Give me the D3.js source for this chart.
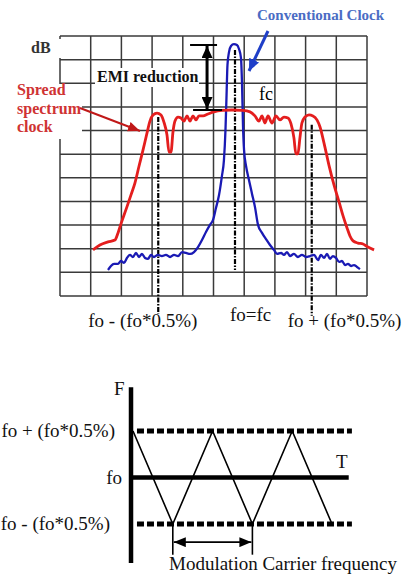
<!DOCTYPE html>
<html>
<head>
<meta charset="utf-8">
<script src="https://cdn.jsdelivr.net/npm/d3@7"></script>
<style>
  html, body { margin: 0; padding: 0; background: #fff; }
  svg { display: block; }
</style>
</head>
<body>
<script>
// ---- Spectrum plot: frequency offset from fo (%), level (dB) ----
const gridFreq = d3.range(11).map(i => +(-1.14 + i * 0.2).toFixed(2));
const gridDb = d3.range(12).map(i => -110 + i * 10);

const spreadFreq = [-0.925, -0.880, -0.827, -0.782, -0.762, -0.743, -0.704, -0.678, -0.652, -0.625,
  -0.599, -0.573, -0.554, -0.534, -0.508, -0.482, -0.463, -0.443, -0.430, -0.417,
  -0.404, -0.391, -0.371, -0.352, -0.332, -0.313, -0.293, -0.274, -0.254, -0.235,
  -0.208, -0.176, -0.137, -0.085, -0.020, 0.046, 0.098, 0.130, 0.156, 0.176,
  0.195, 0.215, 0.241, 0.267, 0.293, 0.319, 0.345, 0.365, 0.384, 0.397,
  0.410, 0.423, 0.436, 0.456, 0.482, 0.508, 0.534, 0.554, 0.580, 0.612,
  0.645, 0.678, 0.704, 0.730, 0.749, 0.769, 0.801, 0.834, 0.866, 0.906];
const spreadDb = [-90.5, -88.4, -87.1, -86.3, -83.3, -79.5, -72.3, -67.3, -62.2, -55.0,
  -48.2, -41.0, -36.0, -33.4, -32.6, -33.4, -36.4, -41.9, -49.1, -49.1,
  -40.6, -36.0, -34.3, -34.7, -36.0, -33.8, -36.0, -33.8, -35.5, -33.8,
  -33.8, -33.0, -32.1, -31.5, -31.3, -31.5, -32.1, -33.8, -36.0, -33.8,
  -36.8, -33.8, -36.8, -33.8, -35.5, -34.3, -34.7, -37.2, -43.1, -49.9,
  -49.9, -43.1, -36.8, -34.3, -33.4, -33.8, -35.5, -38.5, -45.3, -54.6,
  -63.0, -70.2, -76.1, -81.2, -84.6, -86.7, -87.6, -88.0, -89.3, -90.5];

const convFreq = [-0.827, -0.808, -0.788, -0.762, -0.743, -0.723, -0.704, -0.684, -0.665, -0.645,
  -0.625, -0.606, -0.586, -0.567, -0.547, -0.528, -0.502, -0.476, -0.450, -0.423,
  -0.397, -0.371, -0.345, -0.319, -0.293, -0.267, -0.241, -0.215, -0.189, -0.163,
  -0.143, -0.124, -0.104, -0.085, -0.072, -0.062, -0.055, -0.049, -0.039, -0.026,
  -0.007, 0.013, 0.026, 0.039, 0.046, 0.052, 0.059, 0.072, 0.091, 0.111,
  0.130, 0.150, 0.176, 0.202, 0.228, 0.254, 0.274, 0.300, 0.319, 0.339,
  0.358, 0.384, 0.410, 0.436, 0.463, 0.489, 0.515, 0.541, 0.560, 0.580,
  0.599, 0.619, 0.638, 0.658, 0.678, 0.697, 0.717, 0.736, 0.756, 0.775,
  0.795, 0.814];
const convDb = [-99.0, -97.3, -96.4, -96.4, -95.2, -96.0, -93.9, -92.6, -93.5, -91.8,
  -93.5, -92.2, -93.9, -94.3, -92.6, -93.5, -92.6, -93.1, -92.6, -93.5,
  -92.6, -93.1, -91.4, -91.8, -92.2, -91.4, -89.3, -86.3, -82.9, -79.9,
  -77.8, -72.8, -67.3, -59.2, -52.5, -39.8, -25.0, -12.3, -6.8, -4.2,
  -3.4, -3.8, -5.5, -9.3, -20.7, -37.6, -48.2, -55.0, -60.9, -66.8,
  -72.3, -79.9, -83.3, -85.9, -88.4, -90.5, -92.2, -91.8, -92.6, -91.4,
  -93.1, -92.2, -93.5, -92.6, -93.5, -93.1, -92.6, -94.8, -92.6, -93.9,
  -92.2, -94.3, -93.1, -93.9, -95.6, -95.2, -96.9, -96.4, -97.3, -96.9,
  -97.7, -98.6];

const markerFreq = [-0.5, 0, 0.5];
const markerTopDb = [-34.3, -5.9, -37.6];
const markerBottomDb = [-117.6, -99.0, -118.4];
const freqLabels = ["fo - (fo*0.5%)", "fo=fc", "fo + (fo*0.5%)"];

const emiFreq = -0.182;
const emiTopDb = -3.8;
const emiBottomDb = -31.3;

// ---- Modulation profile: time (half periods) vs. frequency deviation (%) ----
const modTime = [0, 1, 2, 3, 4, 5];
const modDev = [0.5, -0.5, 0.5, -0.5, 0.5, -0.5];
const devLevels = [0.5, 0, -0.5];
const devLabels = ["fo + (fo*0.5%)", "fo", "fo - (fo*0.5%)"];

const SERIF = "'Liberation Serif', 'DejaVu Serif', 'Noto Serif', serif";
const W = 406, H = 575;
const svg = d3.select("body").append("svg")
  .attr("width", W).attr("height", H)
  .attr("font-family", SERIF)
  .style("font-family", SERIF);

const defs = svg.append("defs");
function arrowMarker(id, color, w, h) {
  defs.append("marker")
    .attr("id", id).attr("viewBox", `0 0 ${w} ${h}`)
    .attr("refX", w).attr("refY", h / 2)
    .attr("markerWidth", w).attr("markerHeight", h)
    .attr("markerUnits", "userSpaceOnUse")
    .attr("orient", "auto-start-reverse")
    .append("path").attr("d", `M0,0L${w},${h / 2}L0,${h}Z`).attr("fill", color);
}
arrowMarker("ahBlack", "#000", 12, 11);
arrowMarker("ahSmall", "#000", 12, 10);
arrowMarker("ahRed", "#c01818", 12, 10);
arrowMarker("ahBlue", "#1f3fc8", 12, 11);

// ---------- Top: spectrum ----------
const x = d3.scaleLinear().domain([-1.14, 0.86]).range([60, 367]);
const y = d3.scaleLinear().domain([-110, 0]).range([296, 36]);

const grid = svg.append("g").attr("stroke", "#3a3a3a").attr("stroke-width", 1.5);
grid.selectAll("line.v").data(gridFreq).join("line").attr("class", "v")
  .attr("x1", d => x(d)).attr("x2", d => x(d)).attr("y1", y(0)).attr("y2", y(-110));
grid.selectAll("line.h").data(gridDb).join("line").attr("class", "h")
  .attr("x1", x(-1.14)).attr("x2", x(0.86)).attr("y1", d => y(d)).attr("y2", d => y(d));

// label backgrounds
const bg = svg.append("g").attr("fill", "#fff");
bg.append("rect").attr("x", 24).attr("y", 39).attr("width", 40).attr("height", 19);
bg.append("rect").attr("x", 95).attr("y", 68).attr("width", 104).attr("height", 19);
bg.append("rect").attr("x", 8).attr("y", 84).attr("width", 74).attr("height", 55);

// frequency markers (dash-dot)
svg.append("g").selectAll("line").data(markerFreq).join("line")
  .attr("x1", d => x(d)).attr("x2", d => x(d))
  .attr("y1", (d, i) => y(markerTopDb[i])).attr("y2", (d, i) => y(markerBottomDb[i]))
  .attr("stroke", "#000").attr("stroke-width", 2.2)
  .attr("stroke-dasharray", "5,1.5,1.5,1.5");

const line = d3.line().curve(d3.curveMonotoneX);
svg.append("path")
  .attr("d", line(convFreq.map((f, i) => [x(f), y(convDb[i])])))
  .attr("fill", "none").attr("stroke", "#1a1ab4").attr("stroke-width", 2.3)
  .attr("stroke-linejoin", "round");
svg.append("path")
  .attr("d", line(spreadFreq.map((f, i) => [x(f), y(spreadDb[i])])))
  .attr("fill", "none").attr("stroke", "#e41e1e").attr("stroke-width", 2.8)
  .attr("stroke-linejoin", "round");

// EMI reduction arrow
const ex = x(emiFreq);
const emi = svg.append("g").attr("stroke", "#000");
emi.append("line").attr("x1", ex - 17).attr("x2", ex + 10).attr("y1", y(emiTopDb)).attr("y2", y(emiTopDb)).attr("stroke-width", 2);
emi.append("line").attr("x1", ex - 14).attr("x2", ex + 15).attr("y1", y(emiBottomDb)).attr("y2", y(emiBottomDb)).attr("stroke-width", 2);
emi.append("line").attr("x1", ex).attr("x2", ex)
  .attr("y1", y(emiTopDb) + 1).attr("y2", y(emiBottomDb) - 1)
  .attr("stroke-width", 3)
  .attr("marker-start", "url(#ahBlack)").attr("marker-end", "url(#ahBlack)");

// callout arrows
svg.append("line").attr("x1", 80).attr("y1", 108).attr("x2", 140).attr("y2", 131)
  .attr("stroke", "#c01818").attr("stroke-width", 2).attr("marker-end", "url(#ahRed)");
svg.append("line").attr("x1", 268).attr("y1", 31).attr("x2", 249).attr("y2", 71)
  .attr("stroke", "#1f3fc8").attr("stroke-width", 3).attr("marker-end", "url(#ahBlue)");

// texts
svg.append("text").attr("x", 31).attr("y", 53).attr("font-size", 16).attr("font-weight", "bold")
  .attr("fill", "#333").text("dB");
svg.append("text").attr("x", 97).attr("y", 82).attr("font-size", 16).attr("font-weight", "bold")
  .attr("fill", "#111").text("EMI reduction");
svg.append("text").attr("x", 17).attr("font-size", 16).attr("font-weight", "bold").attr("fill", "#cf3333")
  .selectAll("tspan").data(["Spread", "spectrum", "clock"]).join("tspan")
  .attr("x", 17).attr("y", (d, i) => 95 + i * 18.5).text(d => d);
svg.append("text").attr("x", 257).attr("y", 20).attr("font-size", 15).attr("font-weight", "bold")
  .attr("fill", "#4a6cc4").text("Conventional Clock");
svg.append("text").attr("x", 259).attr("y", 100).attr("font-size", 18).attr("fill", "#000").text("fc");

const labelShift = [-70, -5, -24];
const labelBase = [327, 321, 327];
svg.append("g").selectAll("text").data(freqLabels).join("text")
  .attr("x", (d, i) => x(markerFreq[i]) + labelShift[i]).attr("y", (d, i) => labelBase[i])
  .attr("font-size", 19).attr("fill", "#111").text(d => d);

// ---------- Bottom: triangular modulation profile ----------
const tx = d3.scaleLinear().domain([0, 5]).range([133, 332]);
const fy = d3.scaleLinear().domain([-0.5, 0.5]).range([524, 431]);

// dotted deviation limits
svg.append("g").selectAll("line").data([0.5, -0.5]).join("line")
  .attr("x1", tx(0.1)).attr("x2", tx(5.5)).attr("y1", d => fy(d)).attr("y2", d => fy(d))
  .attr("stroke", "#000").attr("stroke-width", 5).attr("stroke-dasharray", "7,3");

// time axis at fo
svg.append("line").attr("x1", tx(-0.05)).attr("x2", tx(5.42)).attr("y1", fy(0)).attr("y2", fy(0))
  .attr("stroke", "#000").attr("stroke-width", 4.5);
// frequency axis
svg.append("line").attr("x1", tx(-0.05)).attr("x2", tx(-0.05)).attr("y1", fy(0.97)).attr("y2", fy(-0.92))
  .attr("stroke", "#000").attr("stroke-width", 4.5);

svg.append("path")
  .attr("d", d3.line()(modTime.map((t, i) => [tx(t), fy(modDev[i])])))
  .attr("fill", "none").attr("stroke", "#000").attr("stroke-width", 1.6);

svg.append("g").selectAll("text").data(devLabels).join("text")
  .attr("x", (d, i) => i === 1 ? 122 : (i === 0 ? 115 : 110))
  .attr("y", (d, i) => fy(devLevels[i]) + 6)
  .attr("text-anchor", "end").attr("font-size", 19).attr("fill", "#111").text(d => d);

svg.append("text").attr("x", 114).attr("y", 395).attr("font-size", 19).attr("fill", "#111").text("F");
svg.append("text").attr("x", 336).attr("y", 468).attr("font-size", 19).attr("fill", "#111").text("T");

// modulation period indicator
svg.append("g").selectAll("line").data([1, 3]).join("line")
  .attr("x1", d => tx(d)).attr("x2", d => tx(d)).attr("y1", fy(-0.5)).attr("y2", fy(-0.83))
  .attr("stroke", "#000").attr("stroke-width", 1.6);
svg.append("line").attr("x1", tx(1) + 1).attr("x2", tx(3) - 1).attr("y1", fy(-0.695)).attr("y2", fy(-0.695))
  .attr("stroke", "#000").attr("stroke-width", 1.6)
  .attr("marker-start", "url(#ahSmall)").attr("marker-end", "url(#ahSmall)");
svg.append("text").attr("x", 169).attr("y", 570).attr("font-size", 19).attr("fill", "#111")
  .text("Modulation Carrier frequency");
</script>
</body>
</html>
